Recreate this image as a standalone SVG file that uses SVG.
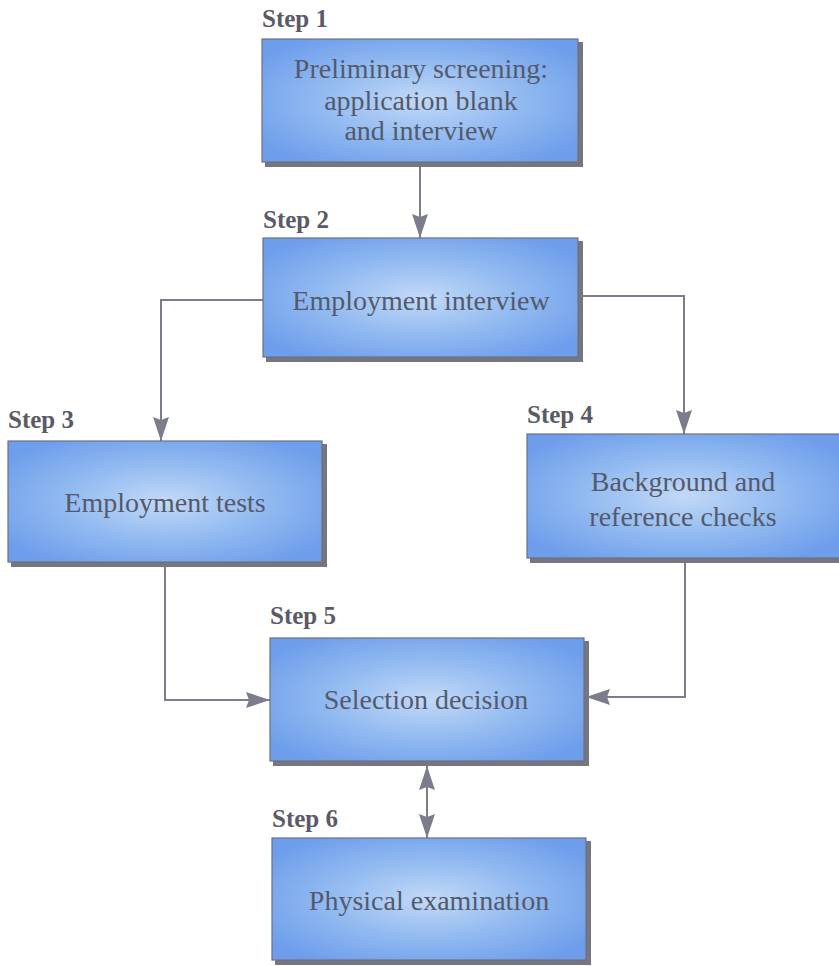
<svg xmlns="http://www.w3.org/2000/svg" width="839" height="966" viewBox="0 0 839 966">
  <defs>
    <radialGradient id="boxFill" cx="0.5" cy="0.5" r="0.62">
      <stop offset="0" stop-color="#c2d9f7"/>
      <stop offset="0.5" stop-color="#93bbf1"/>
      <stop offset="1" stop-color="#6d9deb"/>
    </radialGradient>
    <marker id="arrow" viewBox="0 0 24 16" refX="24" refY="8" markerWidth="24" markerHeight="16" markerUnits="userSpaceOnUse" orient="auto">
      <path d="M0,0 L24,8 L0,16 L3,8 Z" fill="#7c7d8c"/>
    </marker>
    <marker id="arrowStart" viewBox="0 0 24 16" refX="0" refY="8" markerWidth="24" markerHeight="16" markerUnits="userSpaceOnUse" orient="auto">
      <path d="M24,0 L0,8 L24,16 L21,8 Z" fill="#7c7d8c"/>
    </marker>
  </defs>
  <style>
    .box { fill: url(#boxFill); stroke: #6e7080; stroke-width: 1.2; }
    .shadow { fill: #75767f; }
    .step { font-family: "Liberation Serif", "Times New Roman", serif; font-weight: bold; font-size: 25px; fill: #5a5b66; }
    .label { font-family: "Liberation Serif", "Times New Roman", serif; font-size: 28px; fill: #545a6c; text-anchor: middle; }
    .conn { fill: none; stroke: #7c7d8c; stroke-width: 2; }
  </style>
  <rect width="839" height="966" fill="#ffffff"/>

  <g id="connectors">
    <path class="conn" d="M420,167 V238" marker-end="url(#arrow)"/>
    <path class="conn" d="M263,300 H161 V441" marker-end="url(#arrow)"/>
    <path class="conn" d="M580,296 H684 V434" marker-end="url(#arrow)"/>
    <path class="conn" d="M165,567 V700 H270" marker-end="url(#arrow)"/>
    <path class="conn" d="M685,563 V697 H586" marker-end="url(#arrow)"/>
    <path class="conn" d="M427,766 V838" marker-start="url(#arrowStart)" marker-end="url(#arrow)"/>
  </g>

  <g id="step1">
    <text class="step" x="262" y="27">Step 1</text>
    <rect class="shadow" x="265" y="42" width="318" height="125"/>
    <rect class="box" x="262" y="39" width="316" height="123"/>
    <text class="label" x="421" y="78">Preliminary screening:</text>
    <text class="label" x="421" y="110">application blank</text>
    <text class="label" x="421" y="140">and interview</text>
  </g>

  <g id="step2">
    <text class="step" x="263" y="228">Step 2</text>
    <rect class="shadow" x="266" y="241" width="317" height="121"/>
    <rect class="box" x="263" y="238" width="315" height="119"/>
    <text class="label" x="421" y="310">Employment interview</text>
  </g>

  <g id="step3">
    <text class="step" x="8" y="428">Step 3</text>
    <rect class="shadow" x="11" y="444" width="316" height="123"/>
    <rect class="box" x="8" y="441" width="314" height="121"/>
    <text class="label" x="165" y="512">Employment tests</text>
  </g>

  <g id="step4">
    <text class="step" x="527" y="423">Step 4</text>
    <rect class="shadow" x="530" y="437" width="312" height="126"/>
    <rect class="box" x="527" y="434" width="314" height="124"/>
    <text class="label" x="683" y="491">Background and</text>
    <text class="label" x="683" y="526">reference checks</text>
  </g>

  <g id="step5">
    <text class="step" x="270" y="624">Step 5</text>
    <rect class="shadow" x="273" y="641" width="316" height="125"/>
    <rect class="box" x="270" y="638" width="314" height="123"/>
    <text class="label" x="426" y="709">Selection decision</text>
  </g>

  <g id="step6">
    <text class="step" x="272" y="827">Step 6</text>
    <rect class="shadow" x="275" y="841" width="316" height="124"/>
    <rect class="box" x="272" y="838" width="314" height="122"/>
    <text class="label" x="429" y="910">Physical examination</text>
  </g>
</svg>
